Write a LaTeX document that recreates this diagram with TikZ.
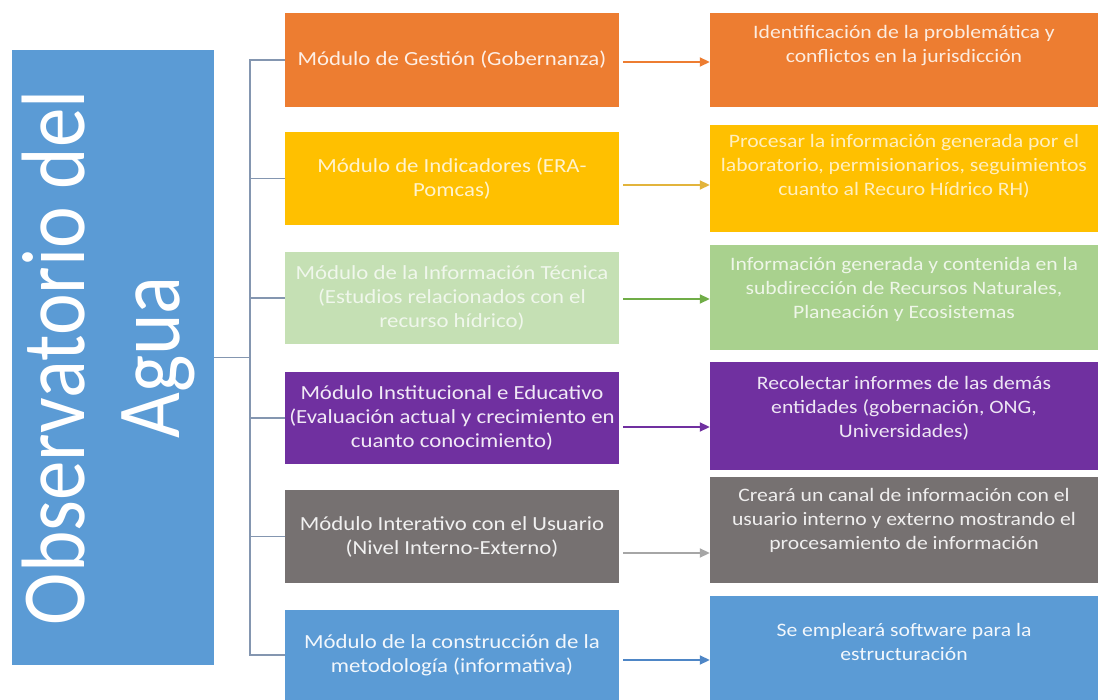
\documentclass[tikz,border=0pt]{standalone}
\usepackage{fontspec}
\setmainfont{Carlito}[FakeStretch=1.14]
\newfontfamily\titlefont{Carlito}
\usetikzlibrary{arrows.meta}
\definecolor{corange}{HTML}{ED7D31}
\definecolor{cyellow}{HTML}{FFC000}
\definecolor{cgreenL}{HTML}{C5E0B4}
\definecolor{cgreen}{HTML}{A9D18E}
\definecolor{cpurple}{HTML}{7030A0}
\definecolor{cgray}{HTML}{767171}
\definecolor{cblue}{HTML}{5B9BD5}
\definecolor{aorange}{HTML}{ED7D31}
\definecolor{ayellow}{HTML}{E2B43C}
\definecolor{agreen}{HTML}{70AD47}
\definecolor{apurple}{HTML}{7030A0}
\definecolor{agray}{HTML}{A6A6A6}
\definecolor{ablue}{HTML}{4E86C6}
\definecolor{cconn}{HTML}{8496B0}
\tikzset{
  mbox/.style={rectangle, inner sep=0pt, minimum width=334pt, align=center, font=\fontsize{20}{24}\selectfont},
  rbox/.style={rectangle, inner sep=0pt, minimum width=388pt},
  rtext/.style={inner sep=0pt, align=center, font=\fontsize{19}{24}\selectfont},
  conn/.style={draw=cconn, line width=1.4pt},
  arr/.style={line width=1.8pt, shorten <=4pt, -{Triangle[length=10pt,width=9pt]}}
}
\begin{document}
\begin{tikzpicture}[x=1pt,y=-1pt]
\useasboundingbox[fill=white] (0,0) rectangle (1098,700);
% left box
\node[rectangle, fill=cblue, minimum width=202pt, minimum height=615pt, inner sep=0pt] (obs) at (113,357.5) {};
\node[rotate=90, text=white, inner sep=0pt] (obst) at (obs.center) {\scalebox{1}[1.14]{\titlefont\fontsize{79}{83}\selectfont\begin{tabular}{@{}c@{}}Observatorio del\\Agua\end{tabular}}};
% middle boxes
\node[mbox, fill=corange, minimum height=94pt, text=white!88!corange] (m1) at (452,60) {Módulo de Gestión (Gobernanza)};
\node[mbox, fill=cyellow, minimum height=93pt, text=white!80!cyellow] (m2) at (452,178.5) {Módulo de Indicadores (ERA-\\Pomcas)};
\node[mbox, fill=cgreenL, minimum height=92pt, text=white!75!cgreenL] (m3) at (452,298) {Módulo de la Información Técnica\\(Estudios relacionados con el\\recurso hídrico)};
\node[mbox, fill=cpurple, minimum height=92pt, text=white!90!cpurple] (m4) at (452,418) {Módulo Institucional e Educativo\\(Evaluación actual y crecimiento en\\cuanto conocimiento)};
\node[mbox, fill=cgray, minimum height=93pt, text=white!90!cgray] (m5) at (452,536.5) {Módulo Interativo con el Usuario\\(Nivel Interno-Externo)};
\node[mbox, fill=cblue, minimum height=90pt, text=white!92!cblue] (m6) at (452,655) {Módulo de la construcción de la\\metodología (informativa)};
% right boxes
\node[rbox, fill=corange, minimum height=94pt] (r1) at (904,60) {};
\node[rtext, text=white!85!corange] (t1) at ([yshift=14pt]r1.center) {Identificación de la problemática y\\conflictos en la jurisdicción};
\node[rbox, fill=cyellow, minimum height=107pt] (r2) at (904,178.5) {};
\node[rtext, text=white!75!cyellow] (t2) at ([yshift=12pt]r2.center) {Procesar la información generada por el\\laboratorio, permisionarios, seguimientos\\cuanto al Recuro Hídrico RH)};
\node[rbox, fill=cgreen, minimum height=105pt] (r3) at (904,297.5) {};
\node[rtext, text=white!80!cgreen] (t3) at ([yshift=8pt]r3.center) {Información generada y contenida en la\\subdirección de Recursos Naturales,\\Planeación y Ecosistemas};
\node[rbox, fill=cpurple, minimum height=108pt] (r4) at (904,416) {};
\node[rtext, text=white!88!cpurple] (t4) at ([yshift=8pt]r4.center) {Recolectar informes de las demás\\entidades (gobernación, ONG,\\Universidades)};
\node[rbox, fill=cgray, minimum height=106pt] (r5) at (904,530) {};
\node[rtext, text=white!88!cgray] (t5) at ([yshift=10pt]r5.center) {Creará un canal de información con el\\usuario interno y externo mostrando el\\procesamiento de información};
\node[rbox, fill=cblue, minimum height=104pt] (r6) at (904,648) {};
\node[rtext, text=white!92!cblue] (t6) at ([yshift=6pt]r6.center) {Se empleará software para la\\estructuración};
% connectors
\coordinate (bus) at (250,357.5);
\draw[conn] (obs.east) -- (bus);
\draw[conn] (bus) |- (m1.west);
\draw[conn] (bus) |- (m2.west);
\draw[conn] (bus) |- (m3.west);
\draw[conn] (bus) |- (m4.west);
\draw[conn] (bus) |- (m5.west);
\draw[conn] (bus) |- (m6.west);
% arrows
\draw[arr, draw=aorange, fill=aorange] (m1.east |- 0,62) -- (r1.west |- 0,62);
\draw[arr, draw=ayellow, fill=ayellow] (m2.east |- 0,185) -- (r2.west |- 0,185);
\draw[arr, draw=agreen, fill=agreen] (m3.east |- 0,299) -- (r3.west |- 0,299);
\draw[arr, draw=apurple, fill=apurple] (m4.east |- 0,427) -- (r4.west |- 0,427);
\draw[arr, draw=agray, fill=agray] (m5.east |- 0,553) -- (r5.west |- 0,553);
\draw[arr, draw=ablue, fill=ablue] (m6.east |- 0,660) -- (r6.west |- 0,660);
\end{tikzpicture}
\end{document}
